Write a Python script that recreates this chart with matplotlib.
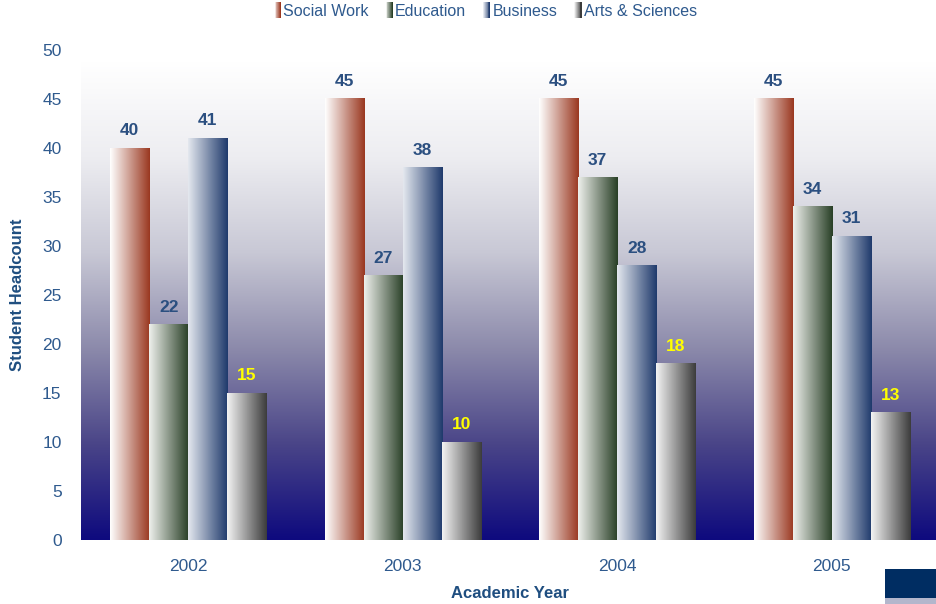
import numpy as np
import matplotlib.pyplot as plt
from matplotlib.colors import LinearSegmentedColormap
from matplotlib.patches import Rectangle
from matplotlib.legend_handler import HandlerBase

plt.rcParams['font.family'] = ['Liberation Sans', 'DejaVu Sans']

years = ['2002', '2003', '2004', '2005']
series = ['Social Work', 'Education', 'Business', 'Arts & Sciences']
social_work = [40, 45, 45, 45]
education = [22, 27, 37, 34]
business = [41, 38, 28, 31]
arts_sciences = [15, 10, 18, 13]
values = [social_work, education, business, arts_sciences]

# left -> right gradient colours per series
grad = [('#ffffff', '#9a3820'),
        ('#eef0ec', '#283f26'),
        ('#e4e8ef', '#1f3a6c'),
        ('#f3f3f3', '#3c3c3c')]
label_colors = ['#2b4f80', '#2b4f80', '#2b4f80', '#ffff00']
blue = '#2f5a8e'


class GradHandler(HandlerBase):
    def __init__(self, c0, c1):
        super().__init__()
        self.c0, self.c1 = c0, c1

    def create_artists(self, legend, orig_handle, xdescent, ydescent,
                       width, height, fontsize, trans):
        cm = LinearSegmentedColormap.from_list('g', [self.c0, self.c1])
        n = 8
        w = 5.0
        x0 = width - w
        arts = []
        for i in range(n):
            r = Rectangle((x0 + i * w / n - xdescent, -ydescent - 2),
                          w / n + 0.1, height + 4, facecolor=cm(i / (n - 1)),
                          edgecolor='none', transform=trans)
            arts.append(r)
        return arts


fig = plt.figure(figsize=(9.36, 6.04), dpi=100)
ax = fig.add_axes([81 / 936, 64 / 604, 858 / 936, 490 / 604])
ax.set_xlim(-0.5, 3.5)
ax.set_ylim(0, 50)

bg = LinearSegmentedColormap.from_list('bg', [
    (0.0, '#0e0a7e'), (0.2, '#4a4588'), (0.4, '#8c8aab'),
    (0.6, '#c8c8d5'), (0.8, '#ededf1'), (1.0, '#ffffff')])
ax.imshow(np.linspace(0, 1, 256).reshape(-1, 1), cmap=bg, origin='lower',
          extent=(-0.5, 3.5, 0, 48.8), aspect='auto', zorder=0)

w = 0.182
x = np.arange(len(years))
hgrad = np.linspace(0, 1, 128).reshape(1, -1)
for k, (vals, (c0, c1)) in enumerate(zip(values, grad)):
    cm = LinearSegmentedColormap.from_list('s%d' % k, [c0, c1])
    xs = x + (k - 1.5) * w
    bars = ax.bar(xs, vals, w, color='none', edgecolor='none', zorder=2)
    for b, v in zip(bars, vals):
        x0 = b.get_x()
        ax.imshow(hgrad, cmap=cm, extent=(x0, x0 + w, 0, v),
                  aspect='auto', zorder=2)
        ax.text(x0 + w / 2, v + 1.0, str(v), ha='center', va='bottom',
                fontsize=12.5, fontweight='bold', color=label_colors[k], zorder=3)

ax.set_xlim(-0.5, 3.5)
ax.set_ylim(0, 50)
ax.set_xticks(x)
ax.set_xticklabels(years)
ax.set_yticks(range(0, 51, 5))
ax.tick_params(length=0, colors=blue, labelsize=12.5)
ax.tick_params(axis='x', pad=14)
ax.tick_params(axis='y', pad=14)
for s in ax.spines.values():
    s.set_visible(False)

ax.set_xlabel('Academic Year', fontsize=12, fontweight='bold', color='#1f4e80',
              labelpad=8)
ax.set_ylabel('Student Headcount', fontsize=12, fontweight='bold',
              color='#1f4e80', labelpad=12)

handles = [Rectangle((0, 0), 1, 1) for _ in series]
hmap = {h: GradHandler(c0, c1) for h, (c0, c1) in zip(handles, grad)}
fig.legend(handles, series, handler_map=hmap, loc='upper center',
           bbox_to_anchor=(0.518, 1.018), ncol=4, frameon=False,
           fontsize=11.5, labelcolor=blue, handlelength=0.5, handletextpad=0.15,
           columnspacing=1.0)

fig.patches.append(Rectangle((885 / 936, 6 / 604), 51 / 936, 29 / 604,
                             transform=fig.transFigure, facecolor='#002d62',
                             edgecolor='none'))
fig.patches.append(Rectangle((885 / 936, 0), 51 / 936, 6 / 604,
                             transform=fig.transFigure, facecolor='#b3b6cc',
                             edgecolor='none'))

fig.savefig('out.png', dpi=100)
